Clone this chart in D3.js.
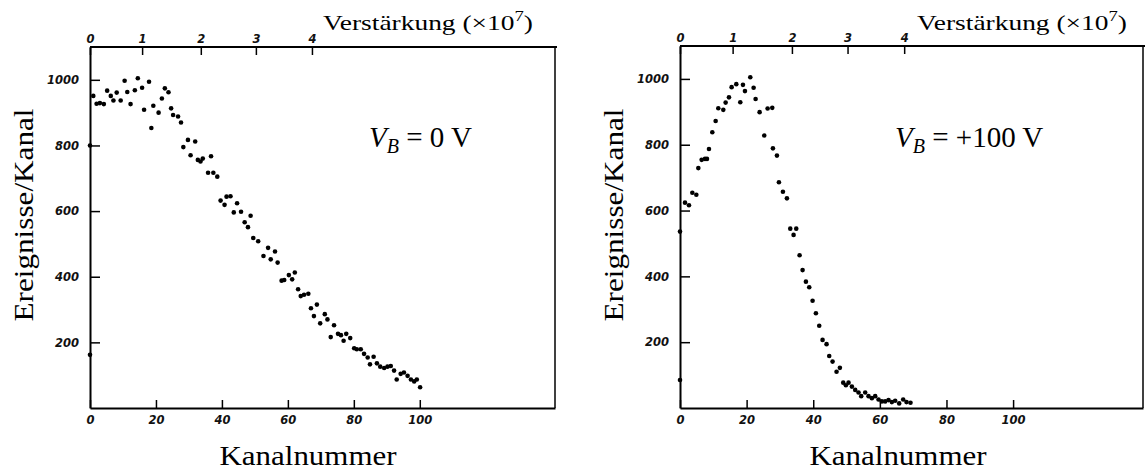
<!DOCTYPE html>
<html>
<head>
<meta charset="utf-8">
<script src="https://cdn.jsdelivr.net/npm/d3@7"></script>
<style>
body { margin: 0; background: #fff; }
.axis .tick text { font-family: "DejaVu Sans", sans-serif; font-style: italic; font-weight: bold; font-size: 11.5px; fill: #111; }
.axis path, .axis line { stroke: #000; }
.label { font-family: "Liberation Serif", "DejaVu Serif", serif; fill: #000; }
</style>
</head>
<body>
<svg id="chart" width="1145" height="472"></svg>
<script>
// Kanalnummer / Ereignisse pro Kanal
var leftPoints = [
    [0, 800], [0, 162],
    [1, 951], [2, 927], [3, 929], [4.2, 926], [5.2, 967], [6.3, 951], [7.1, 937], [8.1, 961],
    [9.3, 937], [10.5, 997], [11.3, 963], [12.3, 926], [13.6, 968], [14.5, 1005], [15.8, 976],
    [16.4, 909], [17.9, 994], [18.6, 853], [19.2, 921], [20.8, 900], [21.8, 943], [22.7, 974],
    [23.8, 962], [24.6, 913], [25.2, 893], [26.7, 888], [27.6, 870], [28.3, 795], [29.7, 817],
    [30.5, 770], [31.9, 812], [32.7, 756], [33.5, 751], [34.2, 760], [35.8, 717], [36.7, 767],
    [37.4, 717], [38.6, 705], [39.6, 632], [40.8, 619], [41.4, 644], [42.6, 645], [43.6, 596],
    [44.6, 624], [45.8, 598], [46.9, 566], [47.9, 551], [48.7, 586], [49.5, 518], [51, 508],
    [52.6, 463], [54, 488], [54.8, 453], [56.1, 477], [56.9, 443], [58.1, 388], [58.9, 390],
    [60.3, 405], [61.3, 392], [62.1, 413], [63.1, 362], [63.9, 341], [64.9, 345], [66.2, 348],
    [67, 304], [67.9, 280], [68.8, 315], [69.8, 258], [71.2, 286], [72, 270], [73, 216],
    [74, 252], [75.2, 226], [76.1, 222], [76.9, 205], [77.7, 226], [78.9, 213], [80.1, 182],
    [80.9, 179], [82.1, 179], [83.1, 165], [84.2, 154], [84.9, 133], [86, 156], [87, 136],
    [88, 126], [89.2, 122], [90.2, 126], [91.2, 128], [92.2, 114], [93, 87], [94.2, 104],
    [95.2, 108], [96.3, 98], [97.3, 87], [98.3, 81], [99.1, 87], [100.1, 63]
];

var rightPoints = [
    [0, 536], [0, 85],
    [1.5, 624], [2.7, 616], [3.7, 654], [4.9, 648], [5.5, 729], [6.5, 754], [7.5, 757], [8.1, 757],
    [8.7, 787], [9.7, 838], [10.7, 872], [11.5, 911], [13, 906], [13.7, 928], [14.7, 944],
    [15.5, 975], [16.9, 984], [18.1, 929], [18.9, 982], [19.5, 963], [21.1, 1005], [22.1, 973],
    [22.7, 939], [23.9, 899], [25.3, 828], [26.3, 910], [27.7, 912], [27.9, 789], [29.1, 767],
    [29.7, 686], [30.9, 657], [32.1, 637], [33.1, 545], [34.1, 526], [34.9, 545], [35.9, 464],
    [36.8, 419], [37.8, 384], [38.8, 367], [39.8, 326], [40.8, 288], [41.8, 250], [42.8, 207],
    [44, 194], [44.8, 158], [45.8, 141], [47, 110], [48, 122], [49, 77], [49.8, 69], [50.6, 77],
    [51.6, 65], [52.6, 55], [53.6, 47], [54.4, 36], [55.6, 47], [56.6, 36], [57.6, 30],
    [58.6, 36], [59.6, 26], [60.6, 20], [61.6, 20], [62.6, 24], [63.6, 18], [64.6, 22],
    [65.8, 14], [67, 26], [68, 18], [69.2, 16]
];

var channelTicks = [0, 20, 40, 60, 80, 100];
var countTicks = [200, 400, 600, 800, 1000];
// Verstaerkung (x10^7) und zugehoerige Kanalnummer der oberen Skala
var gainTicks = [0, 1, 2, 3, 4];
var gainChannels = [0, 15.8, 33.6, 50.3, 67.3];

var panels = [
    { points: leftPoints, voltage: '0 V', left: 90, right: 555, top: 47, bottom: 408, xMax: 141, formulaX: 369, gainX: 323 },
    { points: rightPoints, voltage: '+100 V', left: 680, right: 1143, top: 46, bottom: 408, xMax: 139, formulaX: 895, gainX: 917 }
];

var svg = d3.select('#chart');
var fmt = d3.format('d');

panels.forEach(function (p) {
    var x = d3.scaleLinear().domain([0, p.xMax]).range([p.left, p.right]);
    var y = d3.scaleLinear().domain([0, 1100]).range([p.bottom, p.top]);
    var gain = d3.scaleLinear().domain(gainTicks).range(gainChannels.map(function (c) { return x(c); }));

    var g = svg.append('g');

    // rahmen oben und rechts
    g.append('line')
        .attr('x1', x(0)).attr('x2', x(p.xMax) + 2)
        .attr('y1', y(1100)).attr('y2', y(1100))
        .attr('stroke', '#000').attr('stroke-width', 2);
    g.append('line')
        .attr('x1', x(p.xMax)).attr('x2', x(p.xMax))
        .attr('y1', y(1100)).attr('y2', y(0))
        .attr('stroke', '#000').attr('stroke-width', 1.5);

    var xAxis = g.append('g')
        .attr('class', 'axis')
        .attr('transform', 'translate(0,' + p.bottom + ')')
        .call(d3.axisBottom(x).tickValues(channelTicks).tickFormat(fmt)
            .tickSizeInner(-8).tickSizeOuter(0).tickPadding(8));
    xAxis.select('.domain').attr('stroke-width', 2);
    xAxis.selectAll('.tick line').attr('stroke-width', 1.5);

    var yAxis = g.append('g')
        .attr('class', 'axis')
        .attr('transform', 'translate(' + p.left + ',0)')
        .call(d3.axisLeft(y).tickValues(countTicks).tickFormat(fmt)
            .tickSizeInner(-10).tickSizeOuter(0).tickPadding(11));
    yAxis.select('.domain').attr('stroke-width', 2);
    yAxis.selectAll('.tick line').attr('stroke-width', 1.5);

    var gAxis = g.append('g')
        .attr('class', 'axis')
        .attr('transform', 'translate(0,' + y(1100) + ')')
        .call(d3.axisTop(gain).tickValues(gainTicks).tickFormat(fmt)
            .tickSizeInner(-8).tickSizeOuter(0).tickPadding(4));
    gAxis.select('.domain').remove();
    gAxis.selectAll('.tick line').attr('stroke-width', 1.5);

    g.selectAll('circle.pt')
        .data(p.points)
        .enter()
        .append('circle')
        .attr('class', 'pt')
        .attr('cx', function (d) { return x(d[0]); })
        .attr('cy', function (d) { return y(d[1]); })
        .attr('r', 2.3)
        .attr('fill', '#000');

    // achsenbeschriftungen
    g.append('text')
        .attr('class', 'label')
        .attr('x', p.left + 218)
        .attr('y', 465)
        .attr('text-anchor', 'middle')
        .attr('font-size', 28)
        .attr('textLength', 177)
        .attr('lengthAdjust', 'spacingAndGlyphs')
        .text('Kanalnummer');

    g.append('text')
        .attr('class', 'label')
        .attr('transform', 'translate(' + (p.left - 57) + ',215) rotate(-90)')
        .attr('text-anchor', 'middle')
        .attr('font-size', 28)
        .attr('textLength', 213)
        .attr('lengthAdjust', 'spacingAndGlyphs')
        .text('Ereignisse/Kanal');

    var gl = g.append('text')
        .attr('class', 'label')
        .attr('x', p.gainX)
        .attr('y', 30)
        .attr('font-size', 22)
        .attr('textLength', 210)
        .attr('lengthAdjust', 'spacingAndGlyphs');
    gl.append('tspan').text('Verstärkung (×10');
    gl.append('tspan').attr('dy', -9).attr('font-size', 15).text('7');
    gl.append('tspan').attr('dy', 9).text(')');

    var f = g.append('text')
        .attr('class', 'label')
        .attr('x', p.formulaX)
        .attr('y', 147)
        .attr('font-size', 29);
    f.append('tspan').attr('font-style', 'italic').text('V');
    f.append('tspan').attr('font-style', 'italic').attr('font-size', 20).attr('dy', 6).text('B');
    f.append('tspan').attr('dy', -6).text(' = ' + p.voltage);
});
</script>
</body>
</html>
